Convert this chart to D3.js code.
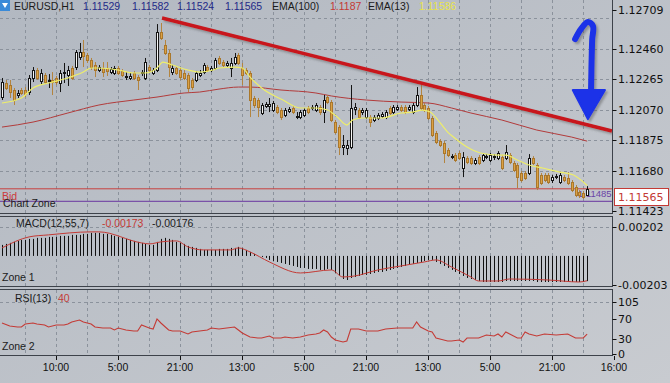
<!DOCTYPE html>
<html>
<head>
<meta charset="utf-8">
<script src="https://d3js.org/d3.v7.min.js"></script>
<style>
  html, body { margin: 0; padding: 0; background: #bcc1c8; }
  svg { display: block; }
</style>
</head>
<body>
<div id="chart"></div>
<script>
// ---- data (EURUSD, H1) ----
// one candle per hour: [open, high, low, close]
const candles = [
  [1.12152,1.12274,1.12133,1.12248],[1.12242,1.12261,1.12197,1.12210],[1.12229,1.12261,1.12146,1.12184],[1.12197,1.12210,1.12101,1.12133],
  [1.12165,1.12197,1.12146,1.12178],[1.12197,1.12210,1.12165,1.12178],[1.12197,1.12216,1.12152,1.12171],[1.12184,1.12293,1.12165,1.12274],
  [1.12274,1.12344,1.12248,1.12325],[1.12325,1.12338,1.12261,1.12274],[1.12255,1.12331,1.12229,1.12306],[1.12293,1.12306,1.12235,1.12248],
  [1.12255,1.12299,1.12210,1.12261],[1.12261,1.12312,1.12165,1.12248],[1.12274,1.12287,1.12229,1.12248],[1.12242,1.12325,1.12184,1.12306],
  [1.12306,1.12370,1.12242,1.12312],[1.12293,1.12351,1.12223,1.12325],[1.12338,1.12351,1.12261,1.12274],[1.12344,1.12453,1.12325,1.12440],
  [1.12408,1.12498,1.12389,1.12440],[1.12440,1.12517,1.12344,1.12415],[1.12421,1.12434,1.12370,1.12389],[1.12389,1.12402,1.12325,1.12344],
  [1.12357,1.12376,1.12280,1.12325],[1.12325,1.12357,1.12312,1.12344],[1.12338,1.12376,1.12280,1.12312],[1.12338,1.12376,1.12287,1.12319],
  [1.12312,1.12344,1.12299,1.12331],[1.12306,1.12351,1.12293,1.12338],[1.12338,1.12351,1.12293,1.12306],[1.12319,1.12331,1.12280,1.12293],
  [1.12280,1.12312,1.12261,1.12287],[1.12274,1.12306,1.12261,1.12287],[1.12306,1.12319,1.12261,1.12274],[1.12280,1.12293,1.12197,1.12261],
  [1.12306,1.12325,1.12287,1.12312],[1.12274,1.12402,1.12261,1.12376],[1.12344,1.12357,1.12312,1.12325],[1.12306,1.12338,1.12293,1.12325],
  [1.12325,1.12619,1.12312,1.12568],[1.12568,1.12626,1.12517,1.12530],[1.12485,1.12517,1.12421,1.12434],[1.12434,1.12453,1.12280,1.12344],
  [1.12312,1.12357,1.12293,1.12338],[1.12338,1.12351,1.12293,1.12306],[1.12325,1.12338,1.12261,1.12280],[1.12306,1.12325,1.12261,1.12274],
  [1.12293,1.12306,1.12184,1.12210],[1.12261,1.12274,1.12197,1.12216],[1.12261,1.12319,1.12248,1.12306],[1.12293,1.12325,1.12280,1.12306],
  [1.12312,1.12370,1.12299,1.12357],[1.12344,1.12357,1.12312,1.12325],[1.12325,1.12351,1.12312,1.12338],[1.12338,1.12402,1.12325,1.12389],
  [1.12402,1.12415,1.12357,1.12370],[1.12376,1.12389,1.12344,1.12357],[1.12357,1.12383,1.12344,1.12370],[1.12338,1.12402,1.12280,1.12370],
  [1.12370,1.12434,1.12357,1.12408],[1.12421,1.12434,1.12357,1.12370],[1.12338,1.12370,1.12229,1.12293],[1.12325,1.12338,1.12293,1.12306],
  [1.12306,1.12319,1.12024,1.12133],[1.12146,1.12159,1.12082,1.12101],[1.12133,1.12146,1.12024,1.12088],[1.12050,1.12114,1.12037,1.12101],
  [1.12095,1.12120,1.12082,1.12107],[1.12095,1.12146,1.12056,1.12107],[1.12069,1.12127,1.12056,1.12114],[1.12088,1.12101,1.12043,1.12056],
  [1.12069,1.12082,1.12005,1.12024],[1.12037,1.12082,1.12024,1.12069],[1.12063,1.12088,1.12050,1.12075],[1.12082,1.12095,1.12043,1.12056],
  [1.12024,1.12056,1.12011,1.12031],[1.12024,1.12069,1.12011,1.12056],[1.12037,1.12082,1.12024,1.12069],[1.12082,1.12095,1.12043,1.12056],
  [1.12082,1.12101,1.12069,1.12088],[1.12069,1.12114,1.12056,1.12101],[1.12088,1.12101,1.12037,1.12056],[1.12056,1.12165,1.11986,1.12133],
  [1.12152,1.12165,1.12107,1.12120],[1.12120,1.12133,1.11992,1.12005],[1.11992,1.12005,1.11915,1.11928],[1.11960,1.11973,1.11781,1.11832],
  [1.11832,1.11909,1.11781,1.11845],[1.11826,1.11877,1.11781,1.11845],[1.11832,1.12229,1.11819,1.12082],[1.12075,1.12114,1.12037,1.12088],
  [1.12069,1.12082,1.12011,1.12024],[1.12056,1.12082,1.12037,1.12069],[1.12024,1.12082,1.12011,1.12069],[1.12024,1.12037,1.11960,1.11992],
  [1.12005,1.12037,1.11992,1.12024],[1.12018,1.12050,1.12005,1.12037],[1.12031,1.12056,1.12018,1.12043],[1.12024,1.12069,1.12011,1.12056],
  [1.12082,1.12095,1.12037,1.12050],[1.12056,1.12101,1.12043,1.12088],[1.12075,1.12101,1.12063,1.12088],[1.12088,1.12101,1.12056,1.12069],
  [1.12088,1.12101,1.12043,1.12056],[1.12075,1.12101,1.12063,1.12088],[1.12056,1.12114,1.12043,1.12101],[1.12101,1.12216,1.12088,1.12165],
  [1.12165,1.12229,1.12069,1.12082],[1.12101,1.12114,1.12056,1.12069],[1.12082,1.12095,1.12005,1.12018],[1.12018,1.12031,1.11896,1.11909],
  [1.11922,1.11935,1.11851,1.11864],[1.11871,1.11883,1.11832,1.11845],[1.11858,1.11871,1.11730,1.11794],[1.11813,1.11826,1.11768,1.11781],
  [1.11768,1.11787,1.11755,1.11774],[1.11781,1.11794,1.11736,1.11749],[1.11794,1.11806,1.11749,1.11762],[1.11698,1.11800,1.11640,1.11768],
  [1.11762,1.11774,1.11723,1.11736],[1.11762,1.11774,1.11717,1.11730],[1.11730,1.11762,1.11717,1.11749],[1.11768,1.11781,1.11717,1.11730],
  [1.11749,1.11794,1.11736,1.11781],[1.11768,1.11787,1.11755,1.11774],[1.11749,1.11794,1.11736,1.11781],[1.11768,1.11787,1.11749,1.11774],
  [1.11762,1.11806,1.11749,1.11794],[1.11768,1.11781,1.11685,1.11698],[1.11762,1.11845,1.11749,1.11800],[1.11781,1.11794,1.11723,1.11736],
  [1.11730,1.11743,1.11672,1.11685],[1.11717,1.11730,1.11570,1.11640],[1.11666,1.11679,1.11608,1.11621],[1.11666,1.11679,1.11621,1.11634],
  [1.11666,1.11787,1.11653,1.11762],[1.11762,1.11774,1.11717,1.11730],[1.11717,1.11730,1.11557,1.11576],[1.11653,1.11666,1.11589,1.11602],
  [1.11653,1.11666,1.11608,1.11621],[1.11653,1.11666,1.11596,1.11608],[1.11621,1.11653,1.11602,1.11640],[1.11640,1.11660,1.11627,1.11647],
  [1.11608,1.11666,1.11596,1.11653],[1.11640,1.11653,1.11608,1.11621],[1.11634,1.11672,1.11589,1.11602],[1.11608,1.11621,1.11544,1.11557],
  [1.11576,1.11589,1.11512,1.11525],[1.11544,1.11557,1.11506,1.11525],[1.11538,1.11551,1.11500,1.11512],[1.11529,1.11582,1.11524,1.11565]
];

// moving averages, [bar, value]
const ema13 = [[0,1.12114],[5,1.12146],[8,1.12210],[12,1.12242],[17,1.12274],[21,1.12312],[23,1.12338],[25,1.12338],
  [30,1.12325],[34,1.12306],[37,1.12306],[40,1.12338],[41.5,1.12376],[44,1.12357],[48,1.12325],[51,1.12312],
  [54.5,1.12325],[56,1.12338],[60,1.12344],[62,1.12338],[64,1.12280],[67,1.12210],[72.5,1.12133],[77,1.12082],
  [81,1.12082],[84,1.12069],[86.5,1.12024],[89,1.11973],[90.5,1.12005],[93,1.12018],[98,1.12018],[103,1.12050],
  [106,1.12056],[108.5,1.12069],[110.5,1.12056],[112.5,1.12005],[115,1.11928],[116.5,1.11896],[120,1.11832],
  [123.5,1.11794],[128,1.11781],[130,1.11781],[133,1.11749],[136,1.11717],[139.5,1.11698],[144,1.11672],
  [147.5,1.11653],[151,1.11586]];
const ema100 = [[0,1.11960],[8,1.11992],[17,1.12050],[25,1.12101],[34,1.12133],[40,1.12152],[47,1.12178],[51,1.12184],
  [56,1.12203],[61,1.12216],[64,1.12216],[72,1.12197],[81,1.12178],[85,1.12159],[94,1.12133],[103,1.12120],
  [110,1.12114],[116,1.12082],[121,1.12050],[129,1.12005],[138,1.11941],[147,1.11896],[151,1.11870]];

// MACD(12,55,7) histogram, one value per bar
const macdHist = [
  0.00077,0.00084,0.00091,0.00098,0.00105,0.00112,0.00112,0.00119,
  0.00119,0.00126,0.00126,0.00126,0.00133,0.00133,0.00133,0.00140,
  0.00140,0.00140,0.00147,0.00147,0.00147,0.00154,0.00154,0.00161,
  0.00161,0.00161,0.00154,0.00154,0.00147,0.00140,0.00133,0.00126,
  0.00119,0.00112,0.00105,0.00098,0.00091,0.00084,0.00077,0.00077,
  0.00098,0.00119,0.00126,0.00119,0.00112,0.00098,0.00091,0.00084,
  0.00070,0.00063,0.00056,0.00049,0.00042,0.00042,0.00042,0.00042,
  0.00049,0.00049,0.00049,0.00056,0.00056,0.00063,0.00056,0.00042,
  0.00028,0.00014,0.00000,-0.00007,-0.00014,-0.00028,-0.00035,-0.00042,
  -0.00049,-0.00056,-0.00063,-0.00070,-0.00077,-0.00084,-0.00084,-0.00091,
  -0.00091,-0.00091,-0.00098,-0.00098,-0.00091,-0.00098,-0.00119,-0.00140,
  -0.00161,-0.00168,-0.00154,-0.00147,-0.00140,-0.00133,-0.00133,-0.00126,
  -0.00119,-0.00112,-0.00112,-0.00105,-0.00098,-0.00091,-0.00084,-0.00077,
  -0.00070,-0.00063,-0.00056,-0.00049,-0.00042,-0.00035,-0.00028,-0.00028,
  -0.00042,-0.00056,-0.00070,-0.00084,-0.00098,-0.00112,-0.00126,-0.00140,
  -0.00154,-0.00161,-0.00168,-0.00175,-0.00182,-0.00182,-0.00182,-0.00182,
  -0.00182,-0.00182,-0.00175,-0.00175,-0.00175,-0.00175,-0.00175,-0.00175,
  -0.00175,-0.00175,-0.00182,-0.00182,-0.00182,-0.00182,-0.00182,-0.00182,
  -0.00182,-0.00182,-0.00182,-0.00182,-0.00182,-0.00182,-0.00182,-0.00176
];
const macdSignal = [[0,0.00056],[7,0.00133],[12,0.00147],[23,0.00168],[25,0.00168],[36,0.00091],[38,0.00084],
  [41,0.00098],[45,0.00105],[48,0.00063],[52,0.00042],[59,0.00042],[61,0.00056],[64,0.00028],[69,-0.00042],
  [77,-0.00119],[85,-0.00098],[88,-0.00147],[91,-0.00140],[97,-0.00098],[103,-0.00070],[109,-0.00042],
  [112,-0.00028],[116,-0.00077],[121,-0.00147],[123,-0.00175],[128,-0.00175],[131,-0.00161],[141,-0.00168],
  [149,-0.00182],[151,-0.00173]];

// RSI(13), [bar, value]
const rsi = [[0,62.6],[2,56.6],[4,54.5],[5,54.5],[6,60.6],[8,62.6],[9,60.6],[11,58.6],[12,54.5],[14,58.6],
  [16,58.6],[17,60.6],[18,64.6],[20,68.7],[21,64.6],[23,60.6],[24,54.5],[26,52.5],[28,52.5],[29,48.5],
  [30,52.5],[32,48.5],[34,46.5],[35,46.5],[36,58.6],[38,52.5],[39,50.5],[40,70.7],[41,62.6],[43,48.5],
  [44,46.5],[46,46.5],[48,40.4],[49,44.4],[51,46.5],[53,48.5],[54,52.5],[56,50.5],[58,52.5],[60,54.5],
  [61,48.5],[62,42.4],[64,34.3],[66,32.3],[67,32.3],[69,36.4],[70,32.3],[72,32.3],[73,34.3],[75,32.3],
  [77,34.3],[79,38.4],[81,40.4],[82,42.4],[83,48.5],[84,44.4],[85,34.3],[86,28.3],[88,24.2],[89,26.3],
  [90,50.5],[92,50.5],[94,46.5],[97,46.5],[99,50.5],[102,52.5],[104,52.5],[106,52.5],[107,64.6],[108,54.5],
  [110,46.5],[111,44.4],[112,32.3],[113,30.3],[115,26.3],[116,26.3],[118,28.3],[119,24.2],[120,32.3],
  [123,32.3],[125,38.4],[127,36.4],[128,40.4],[129,34.3],[130,44.4],[133,32.3],[134,32.3],[135,44.4],
  [136,40.4],[138,36.4],[140,40.4],[143,38.4],[146,40.4],[148,32.3],[150,32.3],[151,40]];

// axes
const priceTicks = [1.12709, 1.12460, 1.12265, 1.12070, 1.11875, 1.11680, 1.11423];
const priceGrid = [1.12655, 1.12460, 1.12265, 1.12070, 1.11875, 1.11680, 1.11485];
const macdTicks = [0.00202, -0.00203];
const rsiTicks = [105, 70, 30, 0];
const timeTickBars = [14, 30, 46, 62, 78, 94, 110, 126, 142, 158];
const timeTickLabels = ['10:00','5:00','21:00','13:00','5:00','21:00','13:00','5:00','21:00','16:00'];

// drawn objects on the chart, [bar, price]
const trendLine = [[41.3, 1.12658], [157.4, 1.11935]];
const supportLine = [[125.2, 1.11485], [157.4, 1.11485]];
const chartZoneLevel = 1.11485;
const arrowStem = [[147.9,1.12523],[149.4,1.12587],[151.2,1.12632],[152.5,1.12607],[152.3,1.12517],[152.0,1.12178]];
const arrowHead = [[147.3,1.12197],[155.6,1.12197],[151.2,1.12011]];

// ---- layout ----
const W = 670, H = 383;
const plotRight = 612;
const mainP = {top: -1, bottom: 213};
const macdP = {top: 216, bottom: 286};
const rsiP = {top: 289, bottom: 355};

const uiFont = "'Liberation Sans', Arial, sans-serif";
const axisFont = "'DejaVu Sans', sans-serif";

// plain hyphen for negatives, like the terminal prints them
const locale = d3.formatLocale({decimal: '.', thousands: ',', grouping: [3], currency: ['', ''], minus: '-'});
const fmt5 = locale.format('.5f');
const trim = v => fmt5(v).replace(/0+$/, '');

const x = d3.scaleLinear().domain([0, 158]).range([2, 614.25]);
const px = i => Math.round(x(i));
const yPrice = d3.scaleLinear().domain([1.11423, 1.12709]).range([211, 10]);
const yMacd = d3.scaleLinear().domain([-0.00203, 0.00202]).range([285, 227]);
const yRsi = d3.scaleLinear().domain([0, 105]).range([354, 302]);

const svg = d3.select('#chart').append('svg')
    .attr('width', W)
    .attr('height', H);

const defs = svg.append('defs');
const grad = defs.append('linearGradient')
    .attr('id', 'bg').attr('x1', 0).attr('y1', 0).attr('x2', 1).attr('y2', 1);
grad.append('stop').attr('offset', 0).attr('stop-color', '#b2b8c1');
grad.append('stop').attr('offset', 1).attr('stop-color', '#c8cbd0');

const shadow = defs.append('filter').attr('id', 'shadow')
    .attr('x', '-20%').attr('y', '-20%').attr('width', '160%').attr('height', '160%');
shadow.append('feDropShadow').attr('dx', 2).attr('dy', 2).attr('stdDeviation', 1.2)
    .attr('flood-color', '#555').attr('flood-opacity', 0.45);

svg.append('rect').attr('width', W).attr('height', H).attr('fill', 'url(#bg)');

[['clipMain', mainP], ['clipMacd', macdP], ['clipRsi', rsiP]].forEach(([id, p]) => {
    defs.append('clipPath').attr('id', id)
        .append('rect').attr('x', 0).attr('y', p.top).attr('width', plotRight).attr('height', p.bottom - p.top);
});

// grid
const gridColor = '#8b929c';
const gridBars = d3.range(6, 158, 8);
[mainP, macdP, rsiP].forEach(p => {
    svg.append('g').selectAll('line')
        .data(gridBars)
        .join('line')
        .attr('x1', d => px(d) + 0.5).attr('x2', d => px(d) + 0.5)
        .attr('y1', p.top + 1).attr('y2', p.bottom)
        .attr('stroke', gridColor).attr('stroke-dasharray', '3,3');
});
svg.append('g').selectAll('line')
    .data(priceGrid)
    .join('line')
    .attr('x1', 0).attr('x2', plotRight)
    .attr('y1', d => Math.round(yPrice(d)) + 0.5).attr('y2', d => Math.round(yPrice(d)) + 0.5)
    .attr('stroke', gridColor).attr('stroke-dasharray', '3,3');
svg.append('line')
    .attr('x1', 0).attr('x2', plotRight)
    .attr('y1', Math.round(yMacd(macdTicks[0])) + 0.5).attr('y2', Math.round(yMacd(macdTicks[0])) + 0.5)
    .attr('stroke', gridColor).attr('stroke-dasharray', '3,3');
svg.append('line')
    .attr('x1', 0).attr('x2', plotRight)
    .attr('y1', Math.round(yRsi(rsiTicks[0])) + 0.5).attr('y2', Math.round(yRsi(rsiTicks[0])) + 0.5)
    .attr('stroke', gridColor).attr('stroke-dasharray', '3,3');

// ---- main chart ----
const main = svg.append('g').attr('clip-path', 'url(#clipMain)');
const last = candles[candles.length - 1];

// bid line + chart zone line
main.append('line')
    .attr('x1', 0).attr('x2', plotRight)
    .attr('y1', yPrice(last[3])).attr('y2', yPrice(last[3]))
    .attr('stroke', '#c8413f').attr('stroke-width', 1);
main.append('line')
    .attr('x1', 0).attr('x2', plotRight)
    .attr('y1', yPrice(chartZoneLevel)).attr('y2', yPrice(chartZoneLevel))
    .attr('stroke', '#7a52a8').attr('stroke-width', 1.2);

main.append('text')
    .attr('x', 578).attr('y', 197)
    .attr('font-family', uiFont).attr('font-size', 9.5)
    .attr('fill', '#6b44a6')
    .text(fmt5(chartZoneLevel));

const priceLine = d3.line().x(d => x(d[0])).y(d => yPrice(d[1]));

main.append('path')
    .datum(ema100)
    .attr('d', priceLine.curve(d3.curveMonotoneX))
    .attr('fill', 'none').attr('stroke', '#b23b3b').attr('stroke-width', 1);

// candles
const bull = d => d[3] >= d[0];
const cg = main.append('g');
cg.selectAll('line')
    .data(candles)
    .join('line')
    .attr('x1', (d, i) => px(i) + 0.5).attr('x2', (d, i) => px(i) + 0.5)
    .attr('y1', d => yPrice(d[1])).attr('y2', d => yPrice(d[2]))
    .attr('stroke', d => bull(d) ? '#151515' : '#b3843f');
cg.selectAll('rect')
    .data(candles)
    .join('rect')
    .attr('x', (d, i) => px(i) - 0.5)
    .attr('width', 2)
    .attr('y', d => Math.round(yPrice(Math.max(d[0], d[3]))) + 0.5)
    .attr('height', d => Math.max(1, Math.round(Math.abs(yPrice(d[0]) - yPrice(d[3])))))
    .attr('fill', d => bull(d) ? '#f6f6f6' : '#dca144')
    .attr('stroke', d => bull(d) ? '#151515' : '#a9772c')
    .attr('stroke-width', 1);

main.append('path')
    .datum(ema13)
    .attr('d', priceLine.curve(d3.curveMonotoneX))
    .attr('fill', 'none').attr('stroke', '#eeee6a').attr('stroke-width', 1.2);

// trend lines
[trendLine, supportLine].forEach(seg => {
    main.append('path')
        .datum(seg)
        .attr('d', priceLine.curve(d3.curveLinear))
        .attr('stroke', '#c8171c').attr('stroke-width', 3.5)
        .attr('filter', 'url(#shadow)');
});

// blue arrow
const arrow = main.append('g').attr('filter', 'url(#shadow)');
arrow.append('path')
    .datum(arrowStem)
    .attr('d', priceLine.curve(d3.curveCatmullRom))
    .attr('fill', 'none').attr('stroke', '#1a31e8').attr('stroke-width', 6)
    .attr('stroke-linecap', 'round').attr('stroke-linejoin', 'round');
arrow.append('path')
    .datum(arrowHead)
    .attr('d', priceLine.curve(d3.curveLinearClosed))
    .attr('fill', '#1a31e8').attr('stroke', '#1a31e8').attr('stroke-width', 2)
    .attr('stroke-linejoin', 'round');

// header
const header = [
    {t: 'EURUSD,H1', x: 14, c: '#1b1b1b'},
    {t: fmt5(last[0]), x: 83, c: '#1f2a88'},
    {t: fmt5(last[1]), x: 132, c: '#1f2a88'},
    {t: fmt5(last[2]), x: 177, c: '#1f2a88'},
    {t: fmt5(last[3]), x: 225, c: '#1f2a88'},
    {t: 'EMA(100)', x: 272, c: '#1b1b1b'},
    {t: trim(ema100[ema100.length - 1][1]), x: 330, c: '#c43a35'},
    {t: 'EMA(13)', x: 368, c: '#1b1b1b'},
    {t: fmt5(ema13[ema13.length - 1][1]), x: 419, c: '#e8e44a'}
];
svg.append('g').selectAll('text')
    .data(header)
    .join('text')
    .attr('x', d => d.x).attr('y', 10)
    .attr('font-family', uiFont).attr('font-size', 10.5)
    .attr('fill', d => d.c)
    .text(d => d.t);
// small symbol icon
svg.append('rect').attr('x', 0).attr('y', 0).attr('width', 10).attr('height', 11).attr('fill', '#3a8ad8');
svg.append('path').attr('d', 'M2,3 L8,3 L5,8 Z').attr('fill', '#ffffff');

svg.append('text').attr('x', 2).attr('y', 200)
    .attr('font-family', uiFont).attr('font-size', 10.5).attr('fill', '#cc3b3b').text('Bid');
svg.append('text').attr('x', 3).attr('y', 207)
    .attr('font-family', uiFont).attr('font-size', 10.5).attr('fill', '#1b1b1b').text('Chart Zone');

// ---- MACD ----
const macd = svg.append('g').attr('clip-path', 'url(#clipMacd)');
macd.selectAll('line')
    .data(macdHist)
    .join('line')
    .attr('x1', (d, i) => px(i) + 0.5).attr('x2', (d, i) => px(i) + 0.5)
    .attr('y1', yMacd(0)).attr('y2', d => yMacd(d))
    .attr('stroke', '#111').attr('stroke-width', 1);
macd.append('path')
    .datum(macdSignal)
    .attr('d', d3.line().x(d => x(d[0])).y(d => yMacd(d[1])).curve(d3.curveMonotoneX))
    .attr('fill', 'none').attr('stroke', '#c43a35').attr('stroke-width', 1);

const macdLabel = svg.append('text').attr('x', 16).attr('y', 227)
    .attr('font-family', uiFont).attr('font-size', 10.5).attr('fill', '#1b1b1b');
macdLabel.append('tspan').text('MACD(12,55,7)');
macdLabel.append('tspan').attr('x', 102).attr('fill', '#c43a35').text(fmt5(macdSignal[macdSignal.length - 1][1]));
macdLabel.append('tspan').attr('x', 152).text(fmt5(macdHist[macdHist.length - 1]));
svg.append('text').attr('x', 2).attr('y', 281)
    .attr('font-family', uiFont).attr('font-size', 10.5).attr('fill', '#1b1b1b').text('Zone 1');

// ---- RSI ----
const rsiG = svg.append('g').attr('clip-path', 'url(#clipRsi)');
rsiG.append('path')
    .datum(rsi)
    .attr('d', d3.line().x(d => x(d[0])).y(d => yRsi(d[1])))
    .attr('fill', 'none').attr('stroke', '#c43a35').attr('stroke-width', 1.1);

const rsiLabel = svg.append('text').attr('x', 15).attr('y', 302)
    .attr('font-family', uiFont).attr('font-size', 10.5).attr('fill', '#1b1b1b');
rsiLabel.append('tspan').text('RSI(13)');
rsiLabel.append('tspan').attr('x', 58).attr('fill', '#c43a35').text(d3.format('d')(rsi[rsi.length - 1][1]));
svg.append('text').attr('x', 2).attr('y', 350)
    .attr('font-family', uiFont).attr('font-size', 10.5).attr('fill', '#1b1b1b').text('Zone 2');

// ---- panel frames ----
[mainP, macdP, rsiP].forEach(p => {
    svg.append('rect')
        .attr('x', -1).attr('y', p.top + 0.5)
        .attr('width', plotRight + 1.5).attr('height', p.bottom - p.top)
        .attr('fill', 'none').attr('stroke', '#3d424a').attr('stroke-width', 1);
});

// ---- right axes ----
const yAxisLabels = (ticks, scale, fmt) => {
    const g = svg.append('g');
    g.selectAll('line')
        .data(ticks)
        .join('line')
        .attr('x1', plotRight + 0.5).attr('x2', plotRight + 4.5)
        .attr('y1', d => Math.round(scale(d)) + 0.5).attr('y2', d => Math.round(scale(d)) + 0.5)
        .attr('stroke', '#111');
    g.selectAll('text')
        .data(ticks)
        .join('text')
        .attr('x', plotRight + 6).attr('y', d => scale(d))
        .attr('dy', '0.35em')
        .attr('font-family', axisFont).attr('font-size', 11)
        .attr('fill', '#111')
        .text(fmt);
};
yAxisLabels(priceTicks, yPrice, fmt5);
yAxisLabels(macdTicks, yMacd, fmt5);
yAxisLabels(rsiTicks, yRsi, d3.format('d'));

// current price box
svg.append('rect')
    .attr('x', plotRight + 2.5).attr('y', Math.round(yPrice(last[3])) - 0.5)
    .attr('width', 54).attr('height', 17)
    .attr('fill', '#ffffff').attr('stroke', '#c43a35');
svg.append('text')
    .attr('x', plotRight + 6).attr('y', Math.round(yPrice(last[3])) + 8)
    .attr('dy', '0.35em')
    .attr('font-family', axisFont).attr('font-size', 11)
    .attr('fill', '#c43a35')
    .text(fmt5(last[3]));

// ---- time axis ----
const tg = svg.append('g');
tg.selectAll('line')
    .data(timeTickBars)
    .join('line')
    .attr('x1', d => px(d) + 0.5).attr('x2', d => px(d) + 0.5)
    .attr('y1', rsiP.bottom + 1).attr('y2', rsiP.bottom + 5)
    .attr('stroke', '#111');
tg.selectAll('text')
    .data(timeTickBars)
    .join('text')
    .attr('x', d => px(d)).attr('y', 371)
    .attr('text-anchor', 'middle')
    .attr('font-family', uiFont).attr('font-size', 10.5)
    .attr('fill', '#111')
    .text((d, i) => timeTickLabels[i]);
</script>
</body>
</html>
